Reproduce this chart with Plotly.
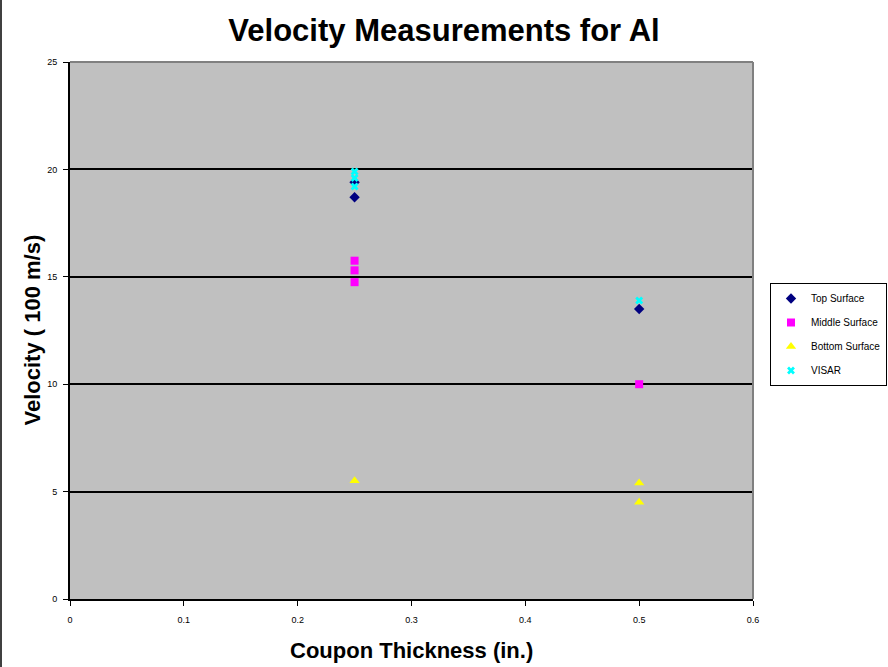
import plotly.graph_objects as go

top_x = [0.25, 0.25, 0.5]
top_y = [18.7, 19.4, 13.5]
mid_x = [0.25, 0.25, 0.25, 0.5]
mid_y = [15.75, 15.3, 14.75, 10.0]
bot_x = [0.25, 0.5, 0.5]
bot_y = [5.5, 5.4, 4.5]
visar_x = [0.25, 0.25, 0.25, 0.5]
visar_y = [19.9, 19.6, 19.2, 13.9]

x_ticks = [0, 0.1, 0.2, 0.3, 0.4, 0.5, 0.6]
y_ticks = [0, 5, 10, 15, 20, 25]

font = "Liberation Sans, Arial, sans-serif"

fig = go.Figure()
fig.add_trace(go.Scatter(x=top_x, y=top_y, mode="markers", name="Top Surface",
                         legendgroup="a",
                         marker=dict(symbol="diamond", size=8, color="#000080")))
fig.add_trace(go.Scatter(x=mid_x, y=mid_y, mode="markers", name="Middle Surface",
                         legendgroup="b",
                         marker=dict(symbol="square", size=8, color="#ff00ff")))
fig.add_trace(go.Scatter(x=bot_x, y=bot_y, mode="markers", name="Bottom Surface",
                         legendgroup="c",
                         marker=dict(symbol="triangle-up", size=9, color="#ffff00")))
fig.add_trace(go.Scatter(x=visar_x, y=visar_y, mode="markers", name="VISAR",
                         legendgroup="d",
                         marker=dict(symbol="x", size=7, color="#00ffff")))

W, H = 888, 667
L, R, T, B = 70, 135, 62, 68
PW, PH = W - L - R, H - T - B
fig.update_layout(
    width=W, height=H,
    margin=dict(l=L, r=R, t=T, b=B, pad=0),
    paper_bgcolor="white",
    plot_bgcolor="#c0c0c0",
    title=dict(text="<b>Velocity Measurements for Al</b>", x=0.5, xanchor="center",
               y=1 - 30 / H, yanchor="middle",
               font=dict(family=font, size=31, color="black")),
    font=dict(family=font, color="black"),
    showlegend=True,
    legend=dict(xref="container", yref="container",
                x=770 / W, y=1 - 283 / H,
                xanchor="left", yanchor="top",
                bgcolor="white", bordercolor="black", borderwidth=1,
                font=dict(family=font, size=10, color="black"),
                traceorder="grouped", tracegroupgap=5,
                itemwidth=30),
    xaxis=dict(range=[0, 0.6], tickvals=x_ticks, ticktext=[str(v) for v in x_ticks],
               showgrid=False, zeroline=False, automargin=False,
               showline=True, linecolor="black", linewidth=2,
               ticks="outside", ticklen=5, tickcolor="black", tickwidth=1,
               ticklabelstandoff=6,
               tickfont=dict(family=font, size=9)),
    yaxis=dict(range=[0, 25], tickvals=y_ticks, ticktext=[str(v) for v in y_ticks],
               showgrid=True, gridcolor="black", gridwidth=2, zeroline=False,
               automargin=False,
               showline=True, linecolor="black", linewidth=2,
               ticks="outside", ticklen=5, tickcolor="black", tickwidth=1,
               ticklabelstandoff=4,
               tickfont=dict(family=font, size=9)),
    annotations=[
        dict(text="<b>Coupon Thickness (in.)</b>", xref="paper", yref="paper",
             x=0.5, y=(599 - 650) / PH, xanchor="center", yanchor="middle",
             showarrow=False, font=dict(family=font, size=22, color="black")),
        dict(text="<b>Velocity ( 100 m/s)</b>", xref="paper", yref="paper",
             x=(32 - L) / PW, y=0.5, xanchor="center", yanchor="middle",
             textangle=-90,
             showarrow=False, font=dict(family=font, size=22, color="black")),
    ],
    shapes=[
        dict(type="line", xref="paper", yref="paper", x0=1, x1=1, y0=0, y1=1,
             line=dict(color="#808080", width=2)),
        dict(type="line", xref="paper", yref="paper", x0=0, x1=1, y0=1, y1=1,
             line=dict(color="#808080", width=2)),
        dict(type="line", xref="paper", yref="paper",
             x0=-(L - 1) / PW, x1=-(L - 1) / PW,
             y0=-B / PH, y1=1 + T / PH,
             line=dict(color="#404040", width=2)),
    ],
)

fig.write_html("out.html")
